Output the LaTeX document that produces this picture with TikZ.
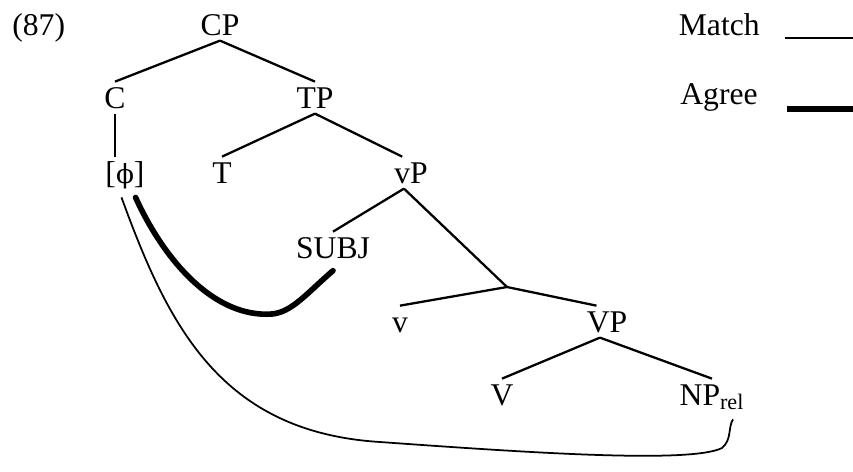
\documentclass[tikz,border=0pt]{standalone}
\usepackage{fontspec}
\setmainfont{Liberation Serif}
\newfontfamily\phifont{DejaVu Serif}
\begin{document}
\begin{tikzpicture}[
    x=0.02cm, y=-0.02cm,
    font=\fontsize{18}{21}\selectfont,
    lab/.style={anchor=base, inner sep=3pt, text height=11.8pt, text depth=0pt},
    branch/.style={draw=black, line width=1.3pt},
    matchline/.style={draw=black, line width=1pt},
    agreeline/.style={draw=black, line width=3.2pt, line cap=round}
]
\useasboundingbox (0,0) rectangle (853,471);

\node[anchor=base west, inner sep=0pt] (exno) at (12,35) {(87)};

% Tree labels, placed on their baselines.
\node[lab] (cp)   at (220,35)  {CP};
\node[lab] (c)    at (115,108) {C};
\node[lab] (tp)   at (315,108) {TP};
\node[lab] (phi)  at (125,183) {[{\phifont\fontsize{15}{18}\selectfont ϕ}]};
\node[lab] (t)    at (222,183) {T};
\node[lab] (vp)   at (411,183) {vP};
\node[lab] (subj) at (333,258) {SUBJ};
\coordinate (vbar) at (507,287);
\node[lab] (lv)   at (400,332) {v};
\node[lab] (bigvp) at (607,332) {VP};
\node[lab] (bigv) at (502,405) {V};
\node[lab] (np)   at (712,405) {NP\textsubscript{rel}};

% Branches.
\draw[branch] (cp.south) -- (c.north);
\draw[branch] (cp.south) -- (tp.north);
\draw[branch] (c.south) -- (phi.north -| c.south);
\draw[branch] (tp.south) -- (t.north);
\draw[branch] (tp.south) -- ([xshift=-5pt]vp.north);
\draw[branch] ([xshift=-4pt]vp.south) -- (subj.north);
\draw[branch] ([xshift=-4pt]vp.south) -- (vbar);
\draw[branch] (vbar) -- (lv.north);
\draw[branch] (vbar) -- ([xshift=-6pt]bigvp.north);
\draw[branch] ([xshift=-4pt]bigvp.south) -- (bigv.north);
\draw[branch] ([xshift=-4pt]bigvp.south) -- (np.north);

% Agree (thick) and Match (thin) from [phi].
\draw[agreeline] ([xshift=6pt,yshift=-5pt]phi.south) .. controls (165,262) and (215,318) .. (272,314)
    .. controls (292,312) and (306,294) .. ([yshift=-4pt]subj.south);
\draw[matchline] ([xshift=-2pt,yshift=-5pt]phi.south) .. controls (168,325) and (220,432) .. (380,442)
    .. controls (520,452) and (690,464) .. (722,448)
    .. controls (732,440) and (728,426) .. ([xshift=12pt,yshift=-5pt]np.south);

% Legend.
\node[anchor=base east, inner sep=0pt] (match) at (760,35) {Match};
\node[anchor=base east, inner sep=0pt] (agree) at (758,104) {Agree};
\coordinate (matchend) at (853,38);
\coordinate (agreeend) at (853,109);
\draw[matchline] (match.base east) ++(25,3) -- (matchend);
\draw[agreeline, line cap=butt] (agree.base east) ++(29,5) -- (agreeend);
\end{tikzpicture}
\end{document}
